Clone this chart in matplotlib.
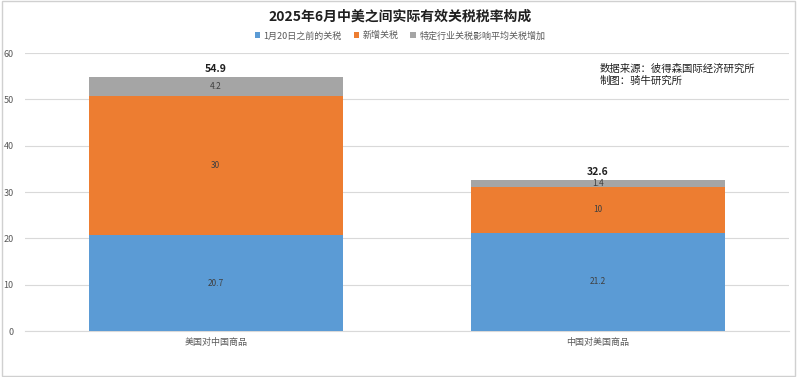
import matplotlib
matplotlib.use("Agg")
import matplotlib.pyplot as plt
from matplotlib.patches import Rectangle

plt.rcParams['font.family'] = ['Noto Sans CJK SC', 'DejaVu Sans']

categories = ['美国对中国商品', '中国对美国商品']
series_names = ['1月20日之前的关税', '新增关税', '特定行业关税影响平均关税增加']
before_jan20 = [20.7, 21.2]
new_tariff = [30, 10]
sector_tariff = [4.2, 1.4]
totals = [54.9, 32.6]
colors = ['#5B9BD5', '#ED7D31', '#A5A5A5']

fig = plt.figure(figsize=(8, 3.77), dpi=100)
ax = fig.add_axes([0.031, 0.122, 0.955, 0.737])

x = list(range(len(categories)))
w = 0.665
b1 = ax.bar(x, before_jan20, w, color=colors[0], label=series_names[0], zorder=3)
bottom2 = before_jan20
b2 = ax.bar(x, new_tariff, w, bottom=bottom2, color=colors[1], label=series_names[1], zorder=3)
bottom3 = [a + b for a, b in zip(before_jan20, new_tariff)]
b3 = ax.bar(x, sector_tariff, w, bottom=bottom3, color=colors[2], label=series_names[2], zorder=3)

for bars, vals, bots in [(b1, before_jan20, [0, 0]), (b2, new_tariff, bottom2), (b3, sector_tariff, bottom3)]:
    for xi, v, bt in zip(x, vals, bots):
        ax.text(xi, bt + v / 2, f'{v:g}', ha='center', va='center', fontsize=6, color='#404040', zorder=4)

for xi, t in zip(x, totals):
    ax.text(xi, t + 0.6, f'{t:g}', ha='center', va='bottom', fontsize=7.5, color='#202020', fontweight='bold', zorder=4)

ax.set_xlim(-0.5, 1.5)
ax.set_ylim(0, 60)
ax.set_yticks(range(0, 61, 10))
ax.set_xticks(x)
ax.set_xticklabels(categories)
ax.grid(axis='y', color='#D9D9D9', linewidth=0.8, zorder=0)
for s in ax.spines.values():
    s.set_visible(False)
ax.spines['bottom'].set_visible(True)
ax.spines['bottom'].set_color('#D9D9D9')
ax.tick_params(axis='both', length=0, labelsize=6.5, labelcolor='#595959')
ax.tick_params(axis='y', pad=8)
ax.tick_params(axis='x', pad=5)

fig.text(0.5, 0.955, '2025年6月中美之间实际有效关税税率构成', ha='center', va='center',
         fontsize=10, fontweight='bold', color='#202020')
leg = fig.legend(handles=[b1, b2, b3], labels=series_names, loc='center', bbox_to_anchor=(0.5, 0.905),
                 ncol=3, frameon=False, fontsize=6.5, handlelength=0.6, handleheight=0.6,
                 columnspacing=1.3, handletextpad=0.4)
for t in leg.get_texts():
    t.set_color('#595959')

fig.text(0.75, 0.802, '数据来源：彼得森国际经济研究所\n制图：骑牛研究所', ha='left', va='center',
         fontsize=7.5, color='#202020', linespacing=1.3)

fig.patches.append(Rectangle((0.002, 0.003), 0.992, 0.994, transform=fig.transFigure,
                             fill=False, edgecolor='#D0D0D0', linewidth=1))

fig.savefig('out.png', dpi=100)
